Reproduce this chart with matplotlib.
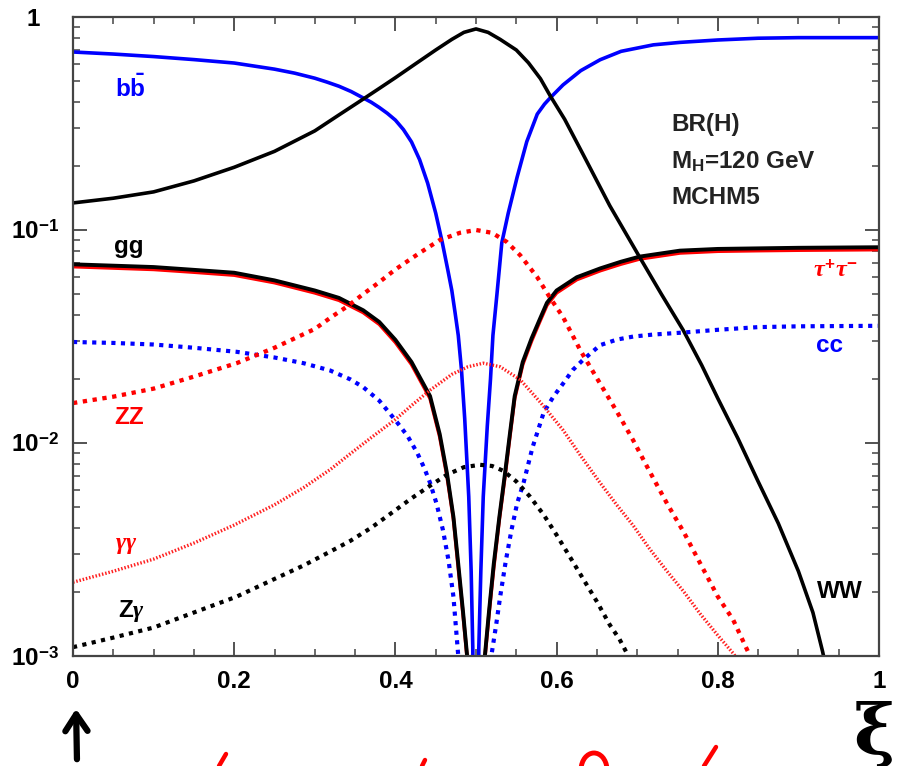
import matplotlib
matplotlib.use("Agg")
import matplotlib.pyplot as plt
from matplotlib.lines import Line2D
from matplotlib.patches import FancyArrowPatch, Arc
from matplotlib.ticker import FixedLocator, LogLocator, NullFormatter, FixedFormatter

plt.rcParams['font.family'] = ['Liberation Sans', 'DejaVu Sans']
plt.rcParams['font.weight'] = 'bold'
plt.rcParams['mathtext.fontset'] = 'custom'
plt.rcParams['mathtext.rm'] = 'Liberation Sans:bold'
plt.rcParams['mathtext.bf'] = 'Liberation Sans:bold'
plt.rcParams['mathtext.it'] = 'Liberation Serif:italic'
plt.rcParams['mathtext.sf'] = 'Liberation Sans:bold'

# ---------------- data ----------------
xi_bb = [0, 0.05, 0.1, 0.15, 0.2, 0.25, 0.275, 0.3, 0.315, 0.33, 0.345, 0.36, 0.37, 0.38, 0.39, 0.4,
         0.41, 0.42, 0.43, 0.44, 0.45, 0.458, 0.465, 0.47, 0.474, 0.478, 0.482, 0.486, 0.491, 0.494,
         0.496, 0.498, 0.4995,
         0.5005, 0.502, 0.5035, 0.506, 0.509, 0.514, 0.518, 0.521, 0.526, 0.532, 0.54, 0.551, 0.563,
         0.576, 0.585, 0.592, 0.608, 0.63, 0.654, 0.68, 0.72, 0.753, 0.8, 0.85, 0.9, 1.0]
br_bb = [0.685, 0.670, 0.652, 0.631, 0.608, 0.569, 0.545, 0.516, 0.495, 0.473, 0.447, 0.417, 0.398, 0.376, 0.353, 0.328,
         0.296, 0.259, 0.214, 0.166, 0.120, 0.088, 0.065, 0.052, 0.041, 0.032, 0.022, 0.013, 0.0056, 0.0025,
         0.0011, 2e-4, 1e-5,
         1e-5, 2e-4, 0.0011, 0.0025, 0.0056, 0.012, 0.020, 0.032, 0.050, 0.087, 0.12, 0.177, 0.26,
         0.35, 0.39, 0.417, 0.48, 0.56, 0.63, 0.69, 0.74, 0.76, 0.78, 0.795, 0.80, 0.80]

xi_ww = [0, 0.05, 0.1, 0.15, 0.2, 0.25, 0.3, 0.33, 0.358, 0.38, 0.4, 0.425, 0.45, 0.47, 0.485, 0.5,
         0.515, 0.53, 0.55, 0.565, 0.58, 0.592, 0.61, 0.633, 0.666, 0.703, 0.73, 0.757,
         0.78, 0.8, 0.825, 0.85, 0.875, 0.9, 0.918, 0.93, 0.94]
br_ww = [0.134, 0.141, 0.151, 0.170, 0.197, 0.234, 0.292, 0.347, 0.407, 0.462, 0.519, 0.603, 0.70, 0.785, 0.847, 0.879,
         0.847, 0.785, 0.70, 0.61, 0.513, 0.427, 0.331, 0.226, 0.130, 0.0746, 0.050, 0.0339,
         0.0232, 0.0162, 0.0105, 0.0066, 0.0042, 0.0025, 0.0016, 0.00105, 0.0007]

xi_gg = [0, 0.05, 0.1, 0.15, 0.2, 0.25, 0.3, 0.33, 0.36, 0.38, 0.4, 0.42, 0.443, 0.455, 0.464, 0.472,
         0.478, 0.484, 0.489, 0.495, 0.4995,
         0.5005, 0.505, 0.511, 0.516, 0.522, 0.529, 0.536, 0.542, 0.548, 0.558, 0.569, 0.579, 0.588,
         0.6, 0.625, 0.654, 0.68, 0.703, 0.753, 0.8, 0.85, 0.9, 1.0]
br_gg = [0.069, 0.068, 0.067, 0.065, 0.063, 0.058, 0.052, 0.048, 0.042, 0.037, 0.0305, 0.024, 0.0166, 0.011, 0.0072, 0.0045,
         0.0027, 0.0016, 0.001, 0.0003, 1e-6,
         1e-6, 0.0003, 0.001, 0.0016, 0.0027, 0.0045, 0.0072, 0.011, 0.0166, 0.024, 0.031, 0.038, 0.0455,
         0.052, 0.060, 0.066, 0.071, 0.075, 0.080, 0.0815, 0.082, 0.0825, 0.083]
br_tautau = [0.0673, 0.0663, 0.0653, 0.0634, 0.0614, 0.0566, 0.0507, 0.0468, 0.041, 0.0361, 0.0297, 0.0234, 0.0162, 0.0107, 0.0070, 0.0044,
             0.0026, 0.00156, 0.00098, 0.00029, 1e-6,
             1e-6, 0.00029, 0.00098, 0.00156, 0.0026, 0.0044, 0.0070, 0.0107, 0.0162, 0.0234, 0.0302, 0.0371, 0.0444,
             0.0507, 0.0585, 0.0644, 0.0692, 0.0731, 0.078, 0.0795, 0.08, 0.0804, 0.0809]

xi_zz = [0, 0.05, 0.1, 0.15, 0.203, 0.25, 0.3, 0.32, 0.34, 0.36, 0.38, 0.4, 0.43, 0.455, 0.48, 0.50, 0.52,
         0.538, 0.555, 0.576, 0.592, 0.608, 0.63, 0.654, 0.675, 0.695, 0.715, 0.737, 0.758, 0.778,
         0.80, 0.819, 0.84, 0.86]
br_zz = [0.0154, 0.0165, 0.018, 0.0205, 0.0237, 0.028, 0.0343, 0.0389, 0.0437, 0.050, 0.0569, 0.0653, 0.078, 0.0897, 0.097, 0.10, 0.097,
         0.088, 0.076, 0.060, 0.048, 0.039, 0.027, 0.019, 0.014, 0.0103, 0.0074, 0.0052, 0.0038, 0.00273,
         0.0019, 0.00148, 0.001, 0.0007]

xi_aa = [0, 0.05, 0.1, 0.15, 0.2, 0.25, 0.286, 0.319, 0.344, 0.37, 0.40, 0.42, 0.443, 0.47, 0.49,
         0.509, 0.53, 0.555, 0.58, 0.608, 0.63, 0.654, 0.675, 0.695, 0.715, 0.737, 0.758, 0.778,
         0.80, 0.819, 0.84]
br_aa = [0.00222, 0.0025, 0.00285, 0.00339, 0.00412, 0.00513, 0.00617, 0.0075, 0.0089, 0.0106, 0.0129, 0.0150, 0.0177, 0.021, 0.0228,
         0.0237, 0.0228, 0.0198, 0.0155, 0.0115, 0.0087, 0.0065, 0.0051, 0.0041, 0.0032, 0.0025, 0.0020, 0.00158,
         0.00125, 0.00103, 0.0008]

xi_cc = [0, 0.05, 0.1, 0.15, 0.203, 0.25, 0.286, 0.319, 0.344, 0.36, 0.38, 0.40, 0.415, 0.427, 0.436,
         0.443, 0.451, 0.459, 0.466, 0.472, 0.478, 0.484, 0.49,
         0.51, 0.514, 0.519, 0.525, 0.53, 0.537, 0.544, 0.551, 0.559, 0.57, 0.584, 0.596, 0.608, 0.62,
         0.633, 0.654, 0.675, 0.695, 0.72, 0.757, 0.8, 0.85, 0.9, 1.0]
br_cc = [0.0298, 0.0295, 0.029, 0.028, 0.0268, 0.0252, 0.0237, 0.0219, 0.0199, 0.0183, 0.0158, 0.0128, 0.0108, 0.009, 0.0076,
         0.0065, 0.0052, 0.0039, 0.0028, 0.0019, 0.001, 0.0005, 0.0002,
         0.0002, 0.0005, 0.001, 0.0014, 0.0019, 0.0028, 0.0039, 0.0052, 0.0065, 0.0095, 0.0139, 0.0165, 0.019, 0.022,
         0.0246, 0.0288, 0.0306, 0.0316, 0.0323, 0.033, 0.034, 0.035, 0.0353, 0.0355]

xi_za = [0, 0.05, 0.1, 0.15, 0.203, 0.25, 0.286, 0.319, 0.344, 0.37, 0.402, 0.42, 0.443, 0.464, 0.485,
         0.505, 0.52, 0.534, 0.55, 0.567, 0.584, 0.60, 0.617, 0.633, 0.65, 0.666, 0.678, 0.689, 0.70]
br_za = [0.0011, 0.00122, 0.00136, 0.0016, 0.0019, 0.0023, 0.00266, 0.00309, 0.00347, 0.0040, 0.0049, 0.0055, 0.0063, 0.0071, 0.0077,
         0.0079, 0.0078, 0.0074, 0.0066, 0.0056, 0.0046, 0.0037, 0.0029, 0.0023, 0.0018, 0.0014, 0.0012, 0.001, 0.0008]

x_ticks = [0, 0.2, 0.4, 0.6, 0.8, 1]
x_tick_labels = ['0', '0.2', '0.4', '0.6', '0.8', '1']
y_ticks = [1e-3, 1e-2, 1e-1, 1]
y_tick_labels = ['10$^{-3}$', '10$^{-2}$', '10$^{-1}$', '']

# ---------------- figure ----------------
fig = plt.figure(figsize=(8.97, 7.66), dpi=100)
ax = fig.add_axes([73/897, 1-656/766, 806/897, 639/766])
ax.set_yscale('log')
ax.set_xlim(0, 1)
ax.set_ylim(1e-3, 1)

dots = (0, (1.0, 1.3))
ax.plot(xi_gg, br_tautau, color='red', lw=2.6, solid_capstyle='butt')
ax.plot(xi_gg, br_gg, color='black', lw=2.8, solid_capstyle='butt')
ax.plot(xi_bb, br_bb, color='#0000ff', lw=2.6)
ax.plot(xi_ww, br_ww, color='black', lw=2.6)
ax.plot(xi_cc, br_cc, color='#0000ff', lw=3.0, linestyle=dots)
ax.plot(xi_zz, br_zz, color='red', lw=3.1, linestyle=dots)
ax.plot(xi_za, br_za, color='black', lw=3.0, linestyle=dots)
ax.plot(xi_aa, br_aa, color='#ff2020', lw=2.4, linestyle=(0, (0.45, 0.55)))

# ticks
ax.xaxis.set_major_locator(FixedLocator(x_ticks))
ax.xaxis.set_major_formatter(FixedFormatter(x_tick_labels))
ax.xaxis.set_minor_locator(FixedLocator([i * 0.05 for i in range(21)]))
ax.yaxis.set_major_locator(FixedLocator(y_ticks))
ax.yaxis.set_major_formatter(FixedFormatter(y_tick_labels))
ax.yaxis.set_minor_locator(LogLocator(base=10, subs=[2, 3, 4, 5, 6, 7, 8, 9]))
ax.yaxis.set_minor_formatter(NullFormatter())
ax.tick_params(which='both', direction='in', top=True, right=True, color='#444444')
ax.tick_params(which='major', length=10, width=1.3, labelsize=17.5, pad=10)
ax.tick_params(which='minor', length=5, width=1.1)
for t in ax.get_xticklabels() + ax.get_yticklabels():
    t.set_fontweight('bold')
for sp in ax.spines.values():
    sp.set_color('#444444')
    sp.set_linewidth(1.6)
# the "1" label of the y axis sits left and slightly above its tick
fig.text(33/897, 1-20/766, '1', fontsize=17.5, fontweight='bold', ha='center', va='center')

# curve labels
def lab(x, y, s, c):
    fig.text(x/897, 1-y/766, s, color=c, fontsize=17.5, fontweight='bold', ha='center', va='center')

lab(130, 88, r'$\mathrm{b}\bar{\mathrm{b}}$', '#0000ff')
lab(129, 246, 'gg', 'black')
lab(129, 418, 'ZZ', 'red')
lab(126, 544, r'$\gamma\gamma$', 'red')
lab(131, 611, r'Z$\gamma$', 'black')
lab(836, 270, r'$\tau^{+}\tau^{-}$', 'red')
lab(829, 345, 'cc', '#0000ff')
lab(840, 592, 'WW', 'black')

for yy, s in [(124, 'BR(H)'), (162, r'M$_{\mathrm{H}}$=120 GeV'), (198, 'MCHM5')]:
    fig.text(671/897, 1-yy/766, s, color='#222222', fontsize=17.5, fontweight='bold', ha='left', va='center')

# hand-drawn annotations
fig.add_artist(FancyArrowPatch((77/897, 1-762/766), (76/897, 1-706/766),
               transform=fig.transFigure, arrowstyle='->,head_length=6,head_width=4',
               lw=4.5, color='black', mutation_scale=2))
fig.text(874/897, 1-734/766, 'ξ', fontsize=50, color='black', ha='center', va='center',
         family='DejaVu Serif', fontweight='bold')
# red handwriting fragments cut off at the bottom edge
for (x0, y0, x1, y1) in [(219, 766, 226, 754), (422, 766, 425, 760), (704, 766, 716, 747)]:
    fig.add_artist(Line2D([x0/897, x1/897], [1-y0/766, 1-y1/766], transform=fig.transFigure,
                          color='red', lw=3.2, solid_capstyle='round'))
fig.add_artist(Arc((594/897, 1-770/766), 26/897, 34/766, theta1=10, theta2=175,
                   transform=fig.transFigure, color='red', lw=3.5))

fig.savefig('out.png', dpi=100)
